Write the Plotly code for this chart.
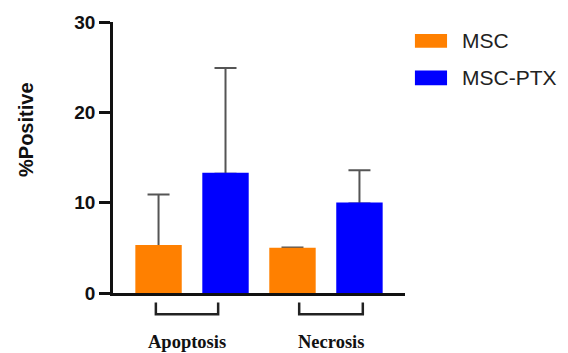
import plotly.graph_objects as go

categories = ["Apoptosis", "Necrosis"]
series_names = ["MSC", "MSC-PTX"]
msc_mean = [5.2, 4.9]
msc_sd = [5.7, 0.15]
ptx_mean = [13.2, 9.9]
ptx_sd = [11.7, 3.7]
y_ticks = [0, 10, 20, 30]

colors = ["#FF8000", "#0000FF"]

fig = go.Figure()
series = [(series_names[0], msc_mean, msc_sd, colors[0]),
          (series_names[1], ptx_mean, ptx_sd, colors[1])]
for k, (name, mean, sd, col) in enumerate(series):
    # error bars (bars themselves transparent), drawn first
    fig.add_trace(go.Bar(
        x=categories, y=mean, name=name, offsetgroup=str(k),
        marker=dict(color="rgba(0,0,0,0)", line=dict(width=0)),
        error_y=dict(type="data", array=sd, arrayminus=[0] * len(sd), symmetric=False,
                     color="#555555", thickness=2, width=11),
        showlegend=False, hoverinfo="skip",
    ))
for k, (name, mean, sd, col) in enumerate(series):
    # visible bars drawn on top, hiding the lower caps
    fig.add_trace(go.Bar(
        x=categories, y=mean, name=name, offsetgroup=str(k),
        marker=dict(color=col, line=dict(width=2.2, color=col)),
        showlegend=False,
    ))

shapes = []
annotations = []
# brackets under each group + group labels
bracket_off = [(-0.27, 0.195), (-0.20, 0.275)]
for i, cat in enumerate(categories):
    x0 = i + bracket_off[i][0]
    x1 = i + bracket_off[i][1]
    shapes.append(dict(type="path", xref="x", yref="paper",
                       path=f"M {x0},-0.035 L {x0},-0.078 L {x1},-0.078 L {x1},-0.035",
                       line=dict(color="#222222", width=2.5)))
    annotations.append(dict(x=(x0 + x1) / 2, y=-0.18, xref="x", yref="paper",
                            text=f"<b>{cat}</b>", showarrow=False,
                            xanchor="center", yanchor="middle",
                            font=dict(family="Liberation Serif, Times New Roman", size=18.5, color="#111111")))

# custom legend
leg_y = [(0.956, 0.905), (0.821, 0.767)]
for name, col, (ya, yb) in zip(series_names, colors, leg_y):
    shapes.append(dict(type="rect", xref="paper", yref="paper",
                       x0=1.034, x1=1.144, y0=yb, y1=ya,
                       fillcolor=col, line=dict(width=0)))
    annotations.append(dict(x=1.19, y=(ya + yb) / 2, xref="paper", yref="paper",
                            text=name, showarrow=False, xanchor="left", yanchor="middle",
                            font=dict(family="Liberation Sans, Arial", size=21, color="#222222")))

# y-axis title
annotations.append(dict(x=-0.296, y=0.6, xref="paper", yref="paper",
                        text="<b>%Positive</b>", showarrow=False, textangle=-90,
                        xanchor="center", yanchor="middle",
                        font=dict(family="Liberation Sans, Arial", size=20, color="#111111")))

fig.update_layout(
    width=568, height=353, autosize=False,
    margin=dict(l=113, r=163, t=19, b=60),
    paper_bgcolor="white", plot_bgcolor="white",
    barmode="group", bargap=0.0, bargroupgap=0.34,
    shapes=shapes, annotations=annotations,
    font=dict(family="Liberation Sans, Arial", color="#111111"),
    xaxis=dict(range=[-0.59, 1.59], showline=True, linecolor="#111111", linewidth=2.5,
               showticklabels=False, ticks="", showgrid=False, zeroline=False),
    yaxis=dict(range=[0, 30], tickvals=y_ticks, showline=True, linecolor="#111111", linewidth=2.5,
               ticks="outside", ticklen=11, tickwidth=2.5, tickcolor="#111111",
               showgrid=False, zeroline=False,
               tickfont=dict(family="Liberation Sans, Arial", size=19, color="#111111", weight="bold")),
)

fig.write_html("out.html", config={"displayModeBar": False},
               post_script="document.body.style.margin='0';document.body.style.overflow='hidden';")
